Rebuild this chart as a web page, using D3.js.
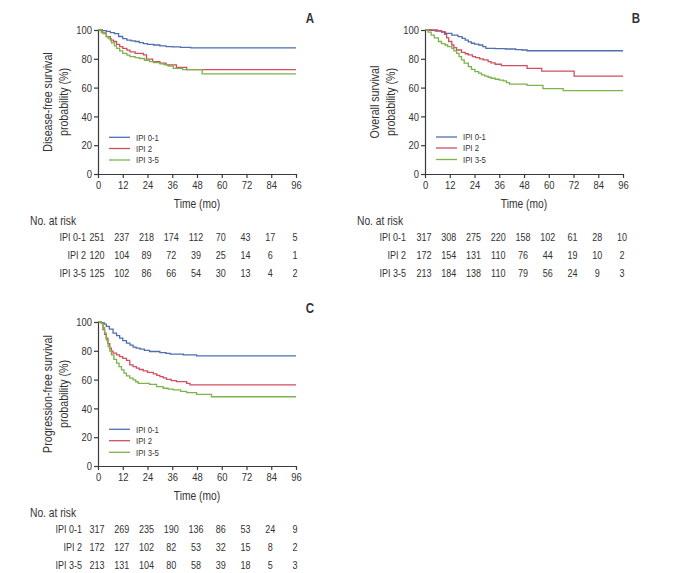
<!DOCTYPE html>
<html><head><meta charset="utf-8">
<script src="https://cdn.jsdelivr.net/npm/d3@7"></script>
<style>
body{margin:0;background:#fff}
svg{display:block}
text{font-family:"Liberation Sans",Arial,sans-serif;fill:#333}
</style>
</head><body>
<svg id="chart" width="684" height="573"></svg>
<script>
// ---------- data ----------
const monthTicks = [0, 12, 24, 36, 48, 60, 72, 84, 96];
const survTicks = [0, 20, 40, 60, 80, 100];
const groups = ["IPI 0-1", "IPI 2", "IPI 3-5"];

// Panel A: disease-free survival, [month, %]
const dfsIPI01 = [[0,100],[2,99.5],[4,99],[6,98.2],[8,97.5],[10,95.5],[12,94],[14,93],[16,92.5],[18,92],[20,91.2],[22,90.6],[24,90],[27,89.6],[30,89],[33,88.5],[36,88.3],[40,88],[45,87.6],[96,87.6]];
const dfsIPI2  = [[0,100],[2,98],[4,95.4],[6,93],[7.5,92],[9,90],[10.5,88.5],[12,87.3],[14,86],[15.5,84.8],[18,83.8],[22,82.7],[23.5,79.8],[26.5,78],[30,77],[33,75.8],[38,74],[43,72.5],[96,72.5]];
const dfsIPI35 = [[0,100],[1.5,98.5],[2.5,97.5],[4,95.5],[5,94],[6.5,91],[8,89],[9,87.3],[10.5,85.5],[12,83.8],[14,82.5],[15.5,81.5],[18,80.8],[20,80.2],[22.5,79],[25,78],[27,77.4],[30,76.5],[32,76],[34,75],[36.5,73.4],[41,72.5],[50.5,69.5],[96,69.5]];

// Panel B: overall survival
const osIPI01 = [[0,100],[3,99.8],[5,99.3],[8,98.5],[10,97.7],[13,96.5],[16,95.4],[18,94.2],[19.5,93],[21,91.8],[22.5,90.8],[24,90.2],[26,89.6],[28,88.5],[29.5,87.3],[34,87],[39,86.8],[44,86.4],[47,86.1],[49.5,85.6],[96,85.6]];
const osIPI2  = [[0,100],[4,100],[6,99.5],[8,98.8],[9.5,97],[10.5,94.5],[11.5,92],[13,89.6],[14,87.8],[15.3,86.1],[17.7,84.5],[19.5,83.5],[21,82.7],[23,81.5],[24.5,80.8],[26.5,80],[28.2,79.2],[30.6,78],[32,77.2],[34,76.2],[37,75.2],[49.5,73.4],[56.6,71.5],[72.3,68],[96,68]];
const osIPI35 = [[0,100],[1.5,98.5],[3,96.5],[4.5,94.5],[6.5,92],[8,90.5],[9.7,89.6],[11,88.5],[13,87.3],[14,85.5],[15.3,83.8],[16.5,81.5],[17.7,79.2],[19,77],[21,74.6],[22.5,72.6],[24.2,71.1],[26,70],[27.4,68.8],[29,68],[30.6,67.2],[32,66.5],[34,65.8],[36,65.2],[37.9,64.7],[39.5,63.5],[41,62.4],[49.5,61.5],[57.2,59.3],[67,57.9],[96,57.9]];

// Panel C: progression-free survival
const pfsIPI01 = [[0,100],[1.6,99.5],[3,98.5],[4,97],[5.5,95],[7.3,92.3],[9,90.5],[10.5,88.8],[12,87],[13.8,85.3],[15.5,84],[17,82.6],[18.5,81.8],[20.3,81.2],[22.5,80.3],[25,79.5],[30,78.8],[33,78.2],[35,77.7],[41.4,77.2],[47.8,76.5],[96,76.5]];
const pfsIPI2  = [[0,100],[1.6,99.3],[2.4,94.7],[3.2,91.5],[4,88.8],[4.8,85],[5.7,81.9],[6.5,79.8],[7.3,78.4],[9,77.2],[10.5,76],[12,74.8],[13.8,73.3],[15.4,70.2],[17,69],[18.6,67.9],[20,67],[21.9,66],[24,65],[26.8,64],[28.5,63],[30,62.1],[31.6,61.2],[33.2,60.2],[35.5,59.3],[38,58.6],[43,57.4],[44.6,56.3],[96,56.3]];
const pfsIPI35 = [[0,100],[1.6,99],[2.4,96],[3.2,92.3],[4,87.5],[4.9,83],[5.7,79.8],[6.5,77.2],[7.7,74],[9,71.4],[10.2,69],[11.4,66.7],[12.6,64.5],[13.8,62.6],[15.4,61],[17,59.8],[18.3,58.5],[19.5,57.4],[25,56.7],[28.4,55.1],[31.6,54],[34,53.4],[36.5,52.8],[40,51.8],[43,50.9],[47.8,49.8],[55,48.1],[96,48.1]];

// Numbers at risk
const riskDfsIPI01 = [251, 237, 218, 174, 112, 70, 43, 17, 5];
const riskDfsIPI2  = [120, 104, 89, 72, 39, 25, 14, 6, 1];
const riskDfsIPI35 = [125, 102, 86, 66, 54, 30, 13, 4, 2];
const riskOsIPI01  = [317, 308, 275, 220, 158, 102, 61, 28, 10];
const riskOsIPI2   = [172, 154, 131, 110, 76, 44, 19, 10, 2];
const riskOsIPI35  = [213, 184, 138, 110, 79, 56, 24, 9, 3];
const riskPfsIPI01 = [317, 269, 235, 190, 136, 86, 53, 24, 9];
const riskPfsIPI2  = [172, 127, 102, 82, 53, 32, 15, 8, 2];
const riskPfsIPI35 = [213, 131, 104, 80, 58, 39, 18, 5, 3];

// ---------- drawing ----------
const colors = ["#4f6fae", "#cf4f60", "#7db349"];
const SX = 0.82; // condensed look
const svg = d3.select("#chart");

function label(str, x, y, size, anchor, opts = {}) {
  const rot = opts.rotate ? ` rotate(${opts.rotate})` : "";
  const g = svg.append("g").attr("transform", `translate(${x},${y})${rot} scale(${SX},1)`);
  const t = g.append("text").text(str).attr("text-anchor", anchor || "start")
    .attr("dy", "0.35em").attr("font-size", size);
  if (opts.weight) t.attr("font-weight", opts.weight);
  if (opts.fill) t.attr("fill", opts.fill);
  return t;
}

const panels = [
  { letter: "A", left: 98, top: 30, w: 198, h: 144, letterX: 310, letterY: 18,
    yTitle: ["Disease-free survival", "probability (%)"], yTitleX: 47,
    series: [dfsIPI01, dfsIPI2, dfsIPI35], risk: [riskDfsIPI01, riskDfsIPI2, riskDfsIPI35],
    riskLabelX: 86, noRiskX: 30, legX: 109, legY: [137.3, 148.5, 160] },
  { letter: "B", left: 425, top: 30, w: 198, h: 144, letterX: 636, letterY: 18,
    yTitle: ["Overall survival", "probability (%)"], yTitleX: 374,
    series: [osIPI01, osIPI2, osIPI35], risk: [riskOsIPI01, riskOsIPI2, riskOsIPI35],
    riskLabelX: 406, noRiskX: 357, legX: 436, legY: [137, 148, 159.5] },
  { letter: "C", left: 98, top: 322, w: 198, h: 144, letterX: 310, letterY: 308,
    yTitle: ["Progression-free survival", "probability (%)"], yTitleX: 47,
    series: [pfsIPI01, pfsIPI2, pfsIPI35], risk: [riskPfsIPI01, riskPfsIPI2, riskPfsIPI35],
    riskLabelX: 82, noRiskX: 30, legX: 109, legY: [429.3, 440.7, 452.3] }
];

panels.forEach(p => {
  const x = d3.scaleLinear().domain([0, 96]).range([p.left, p.left + p.w]);
  const y = d3.scaleLinear().domain([0, 100]).range([p.top + p.h, p.top]);
  const bottom = p.top + p.h;

  // curves
  const line = d3.line().x(d => x(d[0])).y(d => y(d[1])).curve(d3.curveStepAfter);
  p.series.forEach((s, i) => {
    svg.append("path").datum(s).attr("d", line)
      .attr("fill", "none").attr("stroke", colors[i]).attr("stroke-width", 1.3);
  });

  // axes
  const xAxis = svg.append("g").attr("transform", `translate(0,${bottom})`)
    .call(d3.axisBottom(x).tickValues(monthTicks).tickSize(4).tickPadding(3).tickSizeOuter(0));
  const yAxis = svg.append("g").attr("transform", `translate(${p.left},0)`)
    .call(d3.axisLeft(y).tickValues(survTicks).tickSize(4).tickPadding(2).tickSizeOuter(0));
  [xAxis, yAxis].forEach(a => {
    a.selectAll("path,line").attr("stroke", "#3a3a3a").attr("stroke-width", 1.2);
    a.selectAll("text").attr("font-size", 11.5).attr("fill", "#333")
      .style("font-family", '"Liberation Sans",Arial,sans-serif');
  });
  xAxis.selectAll("text").attr("transform", `scale(${SX},1)`);
  yAxis.selectAll("text").attr("x", -6 / SX).attr("transform", `scale(${SX},1)`);

  // y title
  const cy = p.top + p.h / 2;
  p.yTitle.forEach((t, i) => {
    label(t, p.yTitleX + i * 16, cy, 13, "middle", { rotate: -90 });
  });

  // x title
  label("Time (mo)", p.left + p.w / 2, bottom + 30, 12.5, "middle");

  // panel letter
  label(p.letter, p.letterX, p.letterY, 14, "middle", { weight: "bold", fill: "#222" });

  // legend
  groups.forEach((g, i) => {
    svg.append("line").attr("x1", p.legX).attr("x2", p.legX + 21)
      .attr("y1", p.legY[i]).attr("y2", p.legY[i])
      .attr("stroke", colors[i]).attr("stroke-width", 1.3);
    label(g, p.legX + 27, p.legY[i], 9.5, "start");
  });

  // numbers at risk
  label("No. at risk", p.noRiskX, bottom + 47, 12.5, "start");
  p.risk.forEach((row, i) => {
    const ry = bottom + 63.5 + i * 18;
    label(groups[i], p.riskLabelX, ry, 11, "end");
    row.forEach((v, j) => {
      label(String(v), x(monthTicks[j]) - 1, ry, 11, "middle");
    });
  });
});
</script>
</body></html>
